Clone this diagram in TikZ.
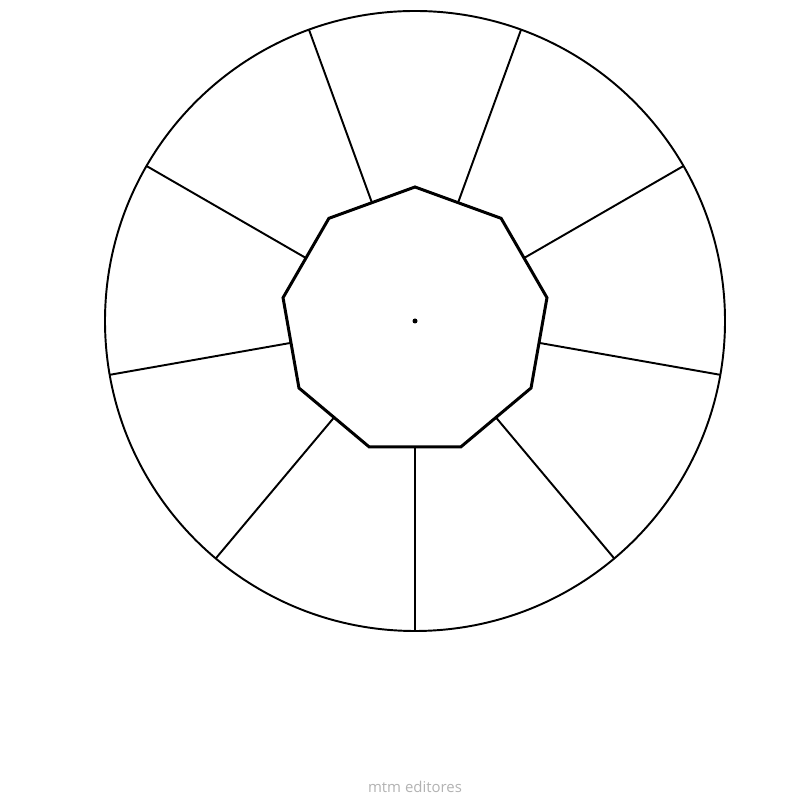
\documentclass[tikz,border=0pt]{standalone}
\usepackage{fontspec}
\setmainfont{Open Sans}
\usepackage{tikz}
\usetikzlibrary{positioning,calc}

\begin{document}
\begin{tikzpicture}[
    rim/.style={draw, line width=1.1pt},
    spoke/.style={draw, line width=1.1pt},
    hub/.style={draw, line width=1.7pt, line join=miter},
    credit/.style={text=black!30, font=\fontsize{8.5}{10}\selectfont, inner sep=0pt}
]

\useasboundingbox (0,0) rectangle (16,16);

% Centre
\coordinate (c) at (8.3,9.58);
\fill (c) circle (0.05);

% Outer circle
\draw[rim] (c) circle (6.2);

% Hub corners (nonagon)
\foreach \i in {1,...,9}
{
    \coordinate (v\i) at ($ (c) + ({-70+40*\i}:2.68) $);
}
\draw[hub] (v1) -- (v2) -- (v3) -- (v4) -- (v5) -- (v6) -- (v7) -- (v8) -- (v9) -- cycle;

% Spokes from the hub edges to the rim
\foreach \i/\j in {1/2, 2/3, 3/4, 4/5, 5/6, 6/7, 7/8, 8/9, 9/1}
{
    \coordinate (m\i) at ($ (v\i)!0.5!(v\j) $);
    \coordinate (o\i) at ($ (c) + ({-50+40*\i}:6.2) $);
    \draw[spoke] (m\i) -- (o\i);
}

% Credit line
\node[credit] (mtm) at (8.3,0.26) {mtm editores};

\end{tikzpicture}
\end{document}
